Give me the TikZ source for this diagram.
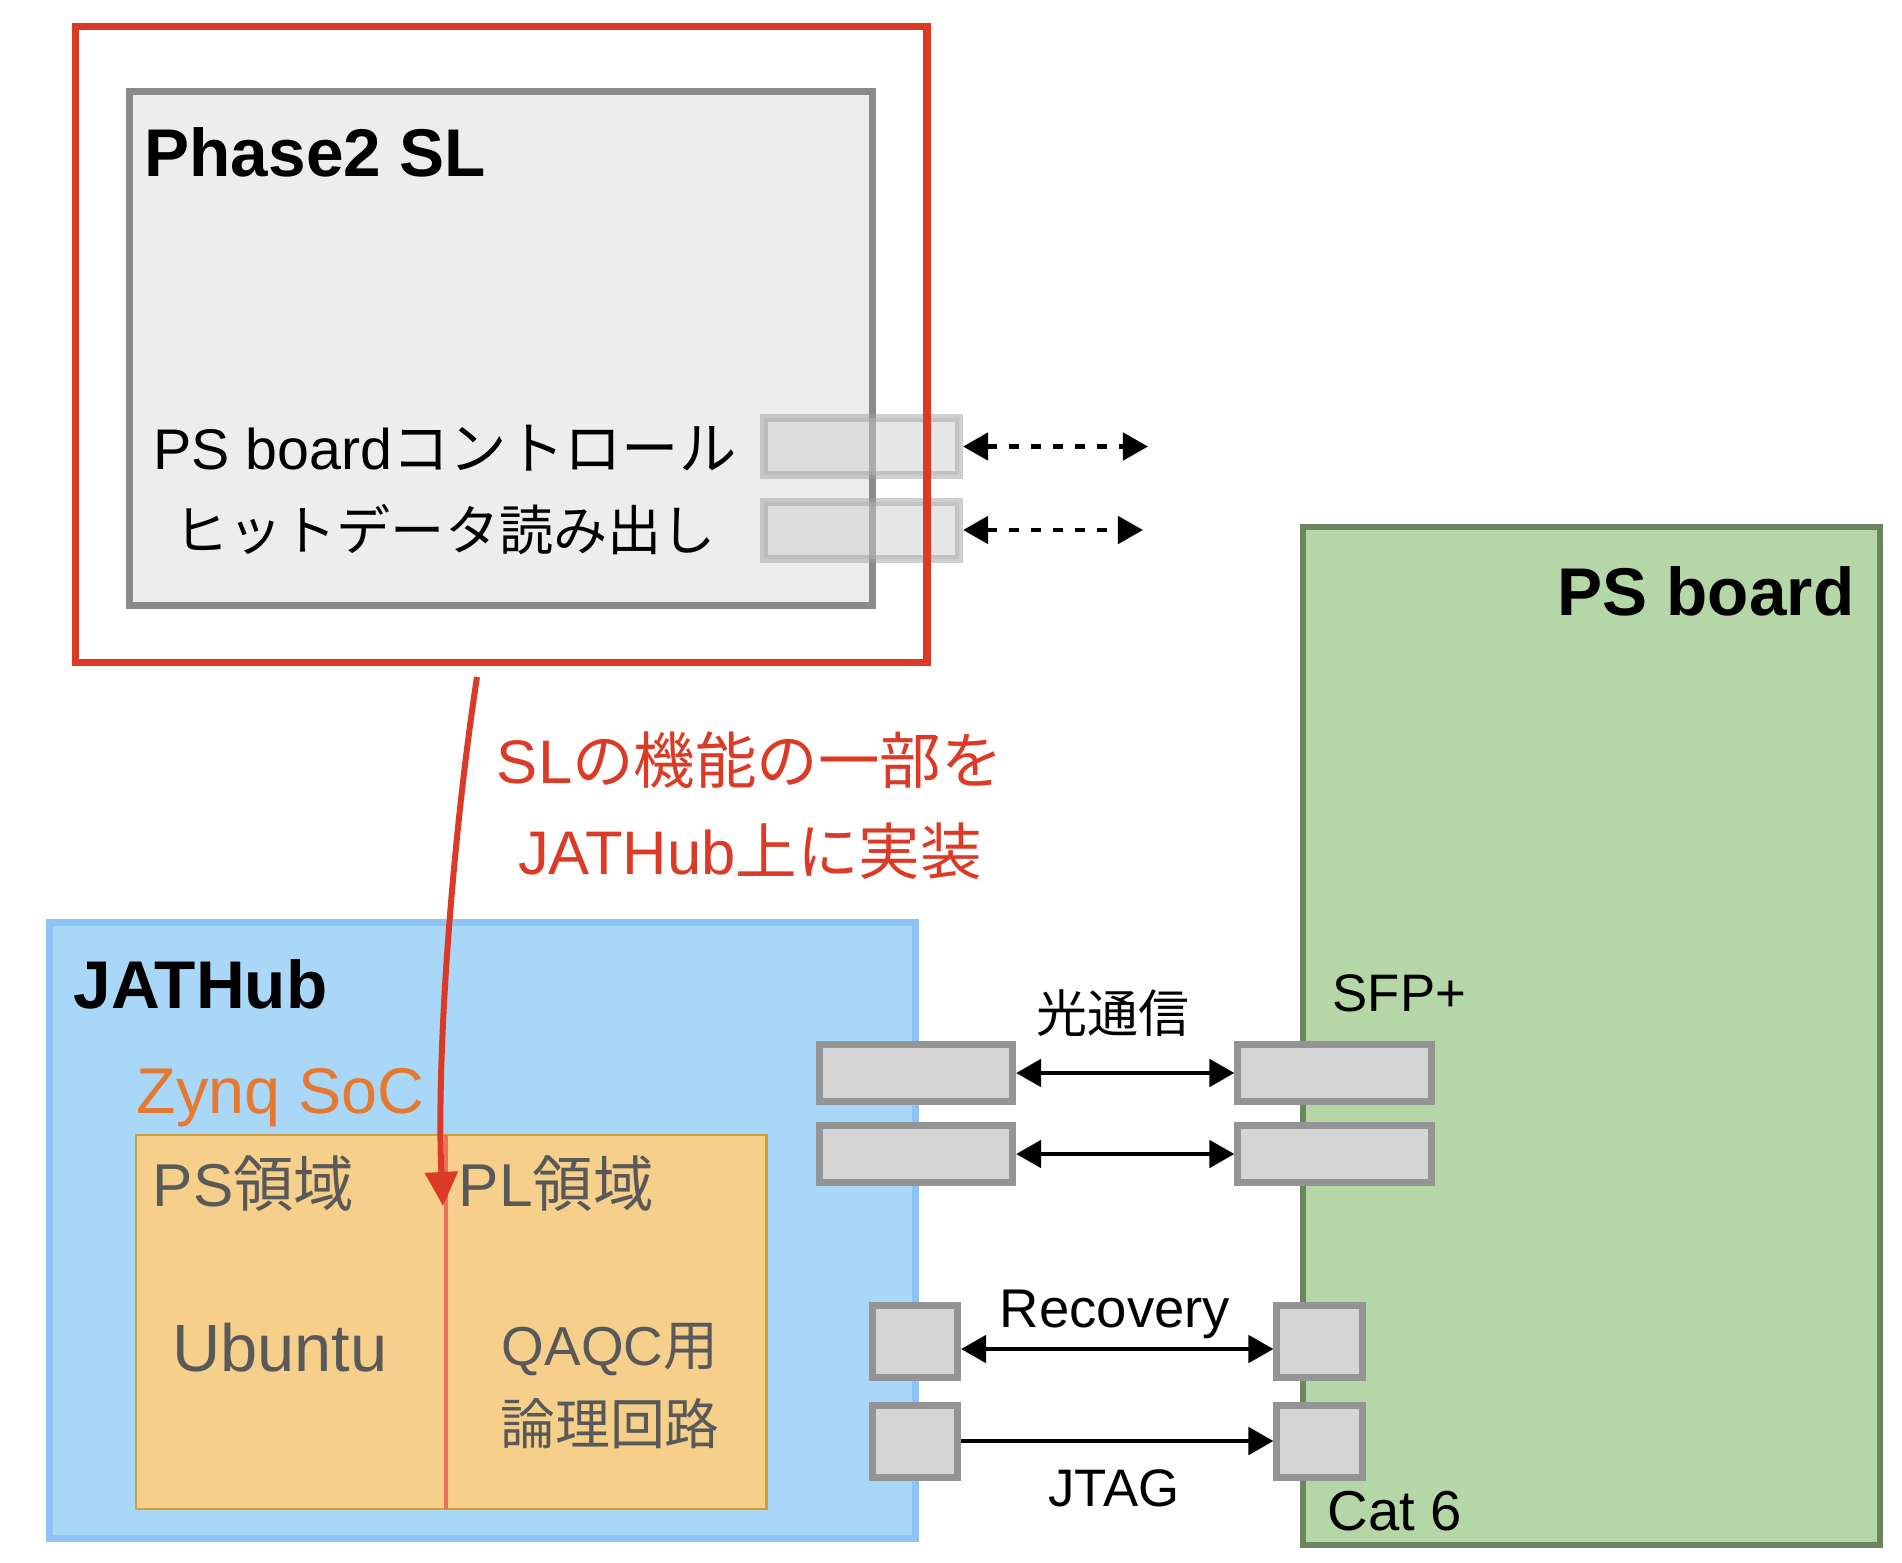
\documentclass[tikz,border=0pt]{standalone}
\usepackage{fontspec}
\setmainfont{Liberation Sans}
\newfontfamily\jp{Noto Sans CJK JP}
\usepackage{xcolor}
\usetikzlibrary{arrows.meta}

\definecolor{framered}{RGB}{219,59,38}
\definecolor{slfill}{RGB}{237,237,237}
\definecolor{slline}{RGB}{138,138,138}
\definecolor{hubfill}{RGB}{169,215,248}
\definecolor{hubline}{RGB}{142,195,248}
\definecolor{socfill}{RGB}{246,207,139}
\definecolor{socline}{RGB}{207,160,58}
\definecolor{soctext}{RGB}{231,121,47}
\definecolor{splitred}{RGB}{232,114,92}
\definecolor{domtext}{RGB}{89,89,89}
\definecolor{boardfill}{RGB}{181,214,167}
\definecolor{boardline}{RGB}{108,132,98}
\definecolor{portfill}{RGB}{213,213,213}
\definecolor{portline}{RGB}{148,148,148}
\definecolor{ghostfill}{RGB}{205,205,205}
\definecolor{ghostline}{RGB}{160,160,160}

\begin{document}
\begin{tikzpicture}[x=0.01cm, y=-0.01cm]
        % ================= 样式定义 =================
        \tikzset{
            % 外框: 左上角定位
            container/.style={inner sep=0pt, outer sep=0pt, anchor=north west},
            % 粗体标题
            title_text/.style={font=\fontsize{19.2}{23}\selectfont\bfseries, inner sep=0pt},
            % 灰色端口 (实心)
            sfp_port/.style={draw=portline, fill=portfill, line width=0.07cm, inner sep=0pt, minimum width=1.93cm, minimum height=0.57cm},
            small_port/.style={sfp_port, minimum width=0.85cm, minimum height=0.72cm},
            % SL 上的半透明端口
            ghost_port/.style={draw=ghostline, fill=ghostfill, opacity=0.5, line width=0.08cm, inner sep=0pt, minimum width=1.95cm, minimum height=0.57cm},
            % 黑色连线
            link_both/.style={line width=0.048cm, >={Triangle[length=0.25cm, width=0.27cm]}, <->},
            link_one/.style={link_both, ->},
            dotted_link/.style={link_both, dash pattern=on 0.1cm off 0.12cm},
            % 红色实装箭头
            impl_arrow/.style={line width=0.06cm, framered, -{Triangle[length=0.34cm, width=0.32cm]}},
            small_text/.style={font=\fontsize{15}{18}\selectfont, inner sep=0pt},
            dom_text/.style={font=\fontsize{17.2}{22}\selectfont, text=domtext, inner sep=0pt}
        }

        \useasboundingbox (0,0) rectangle (1902,1562);

        % ================= 左上: Phase2 SL =================
        \node[container, draw=slline, fill=slfill, line width=0.07cm, minimum width=7.43cm, minimum height=5.14cm] (sl_box) at (129.5,91) {};
        \node[title_text, anchor=base west] (sl_title) at (144,176) {Phase2 SL};

        \node[font=\fontsize{16.3}{19}\selectfont, inner sep=0pt] (ctrl_label) at (445,448) {PS board{\jp コントロール}};
        \node[font=\fontsize{15.4}{19}\selectfont, inner sep=0pt] (read_label) at (445,530) {{\jp ヒットデータ読み出し}};

        % 1. 半透明端口 + 虚线箭头
        \node[ghost_port] (ctrl_port) at (861.5,446.5) {};
        \node[ghost_port] (read_port) at (861.5,530) {};
        \coordinate (ctrl_end) at (1148,446.5);
        \coordinate (read_end) at (1143,530);
        \draw[dotted_link] (ctrl_port) -- (ctrl_end);
        \draw[dotted_link] (read_port) -- (read_end);

        % 2. 红色外框 (画在端口之上)
        \node[container, draw=framered, line width=0.07cm, minimum width=8.51cm, minimum height=6.36cm] (sl_frame) at (75.5,26) {};

        % ================= 左下: JATHub =================
        \node[container, draw=hubline, fill=hubfill, line width=0.07cm, minimum width=8.65cm, minimum height=6.16cm] (hub_box) at (49.5,922.5) {};
        \node[title_text, anchor=base west] (hub_title) at (73,1008) {JATHub};
        \node[font=\fontsize{18.4}{22}\selectfont, text=soctext, inner sep=0pt, anchor=base west] (soc_title) at (136,1113) {Zynq SoC};

        \node[container, draw=socline, fill=socfill, line width=0.025cm, minimum width=6.3cm, minimum height=3.74cm] (soc_box) at (136,1135) {};
        \coordinate (split_top) at (446,1135);
        \coordinate (split_bot) at (446,1509);
        \draw[splitred, line width=0.035cm] (split_top) -- (split_bot);

        \node[dom_text, anchor=base west] (ps_dom) at (152,1206) {PS{\jp 領域}};
        \node[dom_text, anchor=base west] (pl_dom) at (458,1206) {PL{\jp 領域}};
        \node[font=\fontsize{19}{22}\selectfont, text=domtext, inner sep=0pt, anchor=base] (ubuntu) at (280,1371) {Ubuntu};
        \node[font=\fontsize{15.6}{22.5}\selectfont, text=domtext, inner sep=0pt, align=center] (qaqc) at (610,1386) {QAQC{\jp 用}\\{\jp 論理回路}};

        % ================= 右: PS board =================
        \node[container, draw=boardline, fill=boardfill, line width=0.06cm, minimum width=5.77cm, minimum height=10.17cm] (board_box) at (1303,527) {};
        \node[title_text, anchor=base east] (board_title) at (1855,615) {PS board};
        \node[small_text, anchor=base west] (sfp_label) at (1332,1011) {SFP+};
        \node[small_text, font=\fontsize{16}{18}\selectfont, anchor=base west] (cat_label) at (1327,1530) {Cat 6};

        % ================= 端口与连线 =================
        \foreach \i/\y in {1/1073, 2/1154} {
            \node[sfp_port] (hub_sfp\i) at (916,\y) {};
            \node[sfp_port] (board_sfp\i) at (1334.5,\y) {};
            \draw[link_both] (hub_sfp\i) -- (board_sfp\i);
        }
        \node[font=\fontsize{14.5}{18}\selectfont\jp, inner sep=0pt] (optical_label) at (1113,1013) {光通信};

        \node[small_port] (hub_rec) at (915,1341.5) {};
        \node[small_port] (board_rec) at (1319.5,1341.5) {};
        \node[small_port] (hub_jtag) at (915,1441) {};
        \node[small_port] (board_jtag) at (1319.5,1441) {};
        \draw[link_both] ([yshift=-0.075cm]hub_rec.east) -- ([yshift=-0.075cm]board_rec.west);
        \draw[link_one] (hub_jtag) -- (board_jtag);
        \node[small_text, font=\fontsize{15.5}{18}\selectfont, anchor=base] (rec_label) at (1115,1327) {Recovery};
        \node[small_text, anchor=base] (jtag_label) at (1114,1506) {JTAG};

        % ================= 红色箭头: SL -> JATHub =================
        \coordinate (impl_start) at (477,677);
        \coordinate (impl_end) at (443,1206);
        \draw[impl_arrow] (impl_start) .. controls (452,840) and (436,1060) .. (impl_end);
        \node[font=\fontsize{17.5}{25.9}\selectfont, text=framered, inner sep=0pt, align=center] (impl_label) at (750,806) {SL{\jp の機能の一部を}\\JATHub{\jp 上に実装}};

\end{tikzpicture}
\end{document}
